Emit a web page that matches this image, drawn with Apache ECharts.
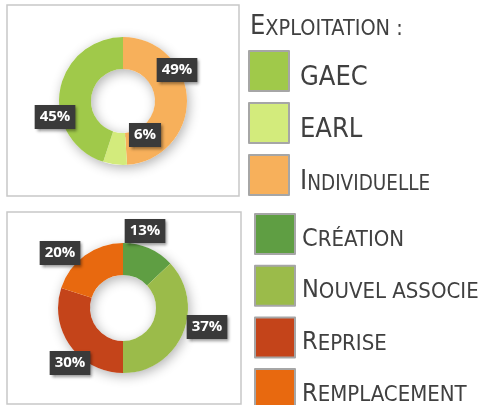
<!DOCTYPE html>
<html><head><meta charset="utf-8">
<script src="https://cdn.jsdelivr.net/npm/echarts@6/dist/echarts.min.js"></script>
<style>html,body{margin:0;padding:0;background:#fff}#c{width:487px;height:405px}</style>
</head><body><div id="c"></div>
<script>
// ---- data ----
const exploitationNames = ['Individuelle', 'EARL', 'GAEC'];
const exploitationValues = [49, 6, 45];
const exploitationLegend = ['GAEC', 'EARL', 'Individuelle'];
const installNames = ['Création', 'Nouvel associe', 'Reprise', 'Remplacement'];
const installValues = [13, 37, 30, 20];
const titleText = 'Exploitation :';

// ---- style ----
const colors = {
  'GAEC': '#a0c94a', 'EARL': '#d3eb7c', 'Individuelle': '#f7b05b',
  'Création': '#5f9e43', 'Nouvel associe': '#9bbb4a', 'Reprise': '#c4441a', 'Remplacement': '#e8690f'
};
const labelPos = {
  'Individuelle': [177, 70], 'EARL': [145, 135], 'GAEC': [55, 117],
  'Création': [145, 231], 'Nouvel associe': [207, 327], 'Reprise': [70, 363], 'Remplacement': [60, 253]
};
const earlLeader = [[118, 149], [123, 136], [129, 136]];
const legendFont = "'DejaVu Sans Condensed', 'DejaVu Sans', sans-serif";
const txtColor = '#404040';

function smallCaps(str) {
  let out = '', cur = null, buf = '';
  for (const ch of str) {
    const big = ch !== ch.toLowerCase() && ch === ch.toUpperCase();
    const t = big ? 'b' : 's';
    const c = ch.toUpperCase();
    if (t !== cur) { if (buf) out += '{' + cur + '|' + buf + '}'; cur = t; buf = c; }
    else buf += c;
  }
  if (buf) out += '{' + cur + '|' + buf + '}';
  return out;
}
function rich(F, S) {
  const base = { fontFamily: legendFont, color: txtColor, fontWeight: 'normal', verticalAlign: 'bottom' };
  return {
    b: Object.assign({ fontSize: F, lineHeight: F }, base),
    s: Object.assign({ fontSize: S, lineHeight: Math.round(2 * (0.3465 * S + 0.1535 * F)) }, base)
  };
}
const labelStyle = {
  show: true, position: 'outside', formatter: p => p.value + '%',
  color: '#fff', fontFamily: 'Open Sans', fontWeight: 'bold', fontSize: 15, lineHeight: 17,
  backgroundColor: '#3a3a3a', padding: [4, 5, 3, 5],
  shadowColor: 'rgba(0,0,0,0.45)', shadowBlur: 3, shadowOffsetX: 2, shadowOffsetY: 2
};
function makeLayout(names) {
  return function (p) {
    const n = names[p.dataIndex];
    const pos = labelPos[n];
    const r = { x: pos[0], y: pos[1], align: 'center', verticalAlign: 'middle' };
    if (n === 'EARL') r.labelLinePoints = earlLeader;
    return r;
  };
}
function shadowRing(center, radius) {
  return {
    type: 'pie', center, radius, silent: true, z: 1,
    data: [{ value: 1, name: 'ring', itemStyle: { color: '#fff', shadowBlur: 12, shadowColor: 'rgba(0,0,0,0.3)', shadowOffsetX: 2, shadowOffsetY: 3 } }],
    label: { show: false }, labelLine: { show: false }, emphasis: { disabled: true }
  };
}

const chart = echarts.init(document.getElementById('c'), null, { renderer: 'canvas' });
chart.setOption({
  animation: false,
  backgroundColor: '#fff',
  title: {
    text: smallCaps(titleText), left: 250, top: 13, padding: 0,
    textStyle: { fontWeight: 'normal', rich: rich(27, 21.5) }
  },
  legend: [
    {
      data: exploitationLegend, orient: 'vertical', left: 248, top: 50, height: 200, padding: 0,
      itemWidth: 40, itemHeight: 40, itemGap: 10, icon: 'rect', selectedMode: false,
      itemStyle: { borderColor: '#a6a6a6', borderWidth: 2 },
      formatter: n => smallCaps(n),
      textStyle: { padding: [13, 0, 0, 6], rich: rich(27, 20.5) }
    },
    {
      data: installNames, orient: 'vertical', left: 254, top: 213, height: 250, padding: 0,
      itemWidth: 40, itemHeight: 40, itemGap: 9.7, icon: 'rect', selectedMode: false,
      itemStyle: { borderColor: '#a6a6a6', borderWidth: 2 },
      formatter: n => smallCaps(n),
      textStyle: { padding: [10, 0, 0, 2], rich: rich(25, 22) }
    }
  ],
  graphic: [
    { type: 'rect', shape: { x: 7, y: 5, width: 232, height: 191 }, style: { fill: 'none', stroke: '#c8c8c8', lineWidth: 1.5 }, z: -1 },
    { type: 'rect', shape: { x: 7, y: 212, width: 234, height: 192 }, style: { fill: 'none', stroke: '#c8c8c8', lineWidth: 1.5 }, z: -1 }
  ],
  series: [
    shadowRing([123, 101], [32, 64]),
    {
      type: 'pie', z: 2, center: [123, 101], radius: [32, 64], startAngle: 90, clockwise: true,
      avoidLabelOverlap: false, emphasis: { disabled: true },
      data: exploitationNames.map((n, i) => ({ name: n, value: exploitationValues[i], itemStyle: { color: colors[n] }, labelLine: { show: n === 'EARL' } })),
      label: labelStyle,
      labelLine: { show: false, lineStyle: { color: '#8c8c8c', width: 1 } },
      labelLayout: makeLayout(exploitationNames)
    },
    shadowRing([123, 308], [33, 65]),
    {
      type: 'pie', z: 2, center: [123, 308], radius: [33, 65], startAngle: 90, clockwise: true,
      avoidLabelOverlap: false, emphasis: { disabled: true },
      data: installNames.map((n, i) => ({ name: n, value: installValues[i], itemStyle: { color: colors[n] } })),
      label: labelStyle,
      labelLine: { show: false },
      labelLayout: makeLayout(installNames)
    }
  ]
});
</script></body></html>
